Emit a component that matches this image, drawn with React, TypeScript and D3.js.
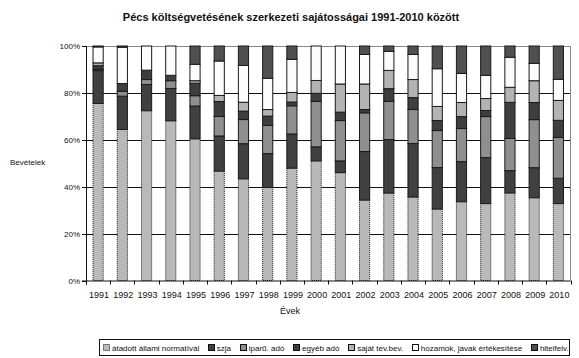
import React, { useEffect, useRef } from "react";
import * as d3 from "d3";

const years = ["1991", "1992", "1993", "1994", "1995", "1996", "1997", "1998", "1999", "2000",
  "2001", "2002", "2003", "2004", "2005", "2006", "2007", "2008", "2009", "2010"];

const atadott = [75.5, 64.4, 72.4, 68.1, 60.4, 46.7, 43.4, 39.7, 47.9, 51.0, 46.0, 34.3, 37.3, 35.6, 30.5, 33.6, 32.8, 37.3, 35.3, 32.8];
const szja = [14.0, 14.2, 11.2, 13.8, 14.0, 15.0, 15.0, 14.4, 14.6, 6.0, 5.0, 20.7, 22.8, 22.8, 17.7, 17.1, 19.6, 9.5, 12.8, 10.8];
const iparu = [0.6, 2.1, 2.1, 3.3, 4.4, 8.3, 10.3, 12.0, 12.0, 19.4, 17.2, 16.5, 16.3, 14.5, 15.8, 14.1, 17.5, 13.7, 20.5, 17.4];
const egyeb = [1.5, 3.3, 4.0, 2.3, 5.3, 6.4, 3.6, 4.0, 1.6, 3.4, 3.6, 1.4, 5.4, 5.1, 4.3, 5.1, 2.6, 15.4, 7.3, 7.3];
const sajat = [1.2, 0, 0, 0, 1.1, 2.6, 3.8, 2.8, 4.1, 5.5, 12.0, 10.9, 7.8, 7.7, 6.0, 6.0, 5.1, 6.4, 9.3, 8.5];
const hozamok = [6.8, 15.5, 10.3, 12.5, 7.0, 14.7, 15.7, 13.3, 14.1, 14.7, 16.2, 12.6, 8.1, 10.7, 16.1, 12.4, 9.9, 12.8, 7.4, 9.0];
const hitel = [0.4, 0.5, 0, 0, 7.8, 6.4, 8.3, 13.8, 5.7, 0, 0, 3.6, 2.3, 3.6, 9.7, 11.7, 12.5, 4.8, 7.4, 14.2];

const seriesNames = ["átadott állami normatívál", "szja", "iparű. adó", "egyéb adó", "saját tev.bev.", "hozamok, javak értékesítése", "hitelfelv."];
const seriesValues = [atadott, szja, iparu, egyeb, sajat, hozamok, hitel];
const colors = ["#b9b9b9", "#404040", "#8f8f8f", "#3e3e3e", "#b3b3b3", "#fcfcfc", "#505050"];
const yTicks = [0, 0.2, 0.4, 0.6, 0.8, 1];

const FONT = "'Liberation Sans', Arial, sans-serif";

const App = () => {
  const svgRef = useRef<SVGSVGElement>(null);

  useEffect(() => {
    const svg = d3.select(svgRef.current);
    svg.selectAll("*").remove();

    const left = 86, right = 570.5, top = 46, bottom = 280.5;

    const rows = years.map((yr, i) => {
      const r: any = { year: yr };
      seriesNames.forEach((n, k) => (r[n] = seriesValues[k][i]));
      return r;
    });
    const stack = d3.stack<any>().keys(seriesNames).offset(d3.stackOffsetExpand)(rows);

    const x = d3.scaleBand<string>().domain(years).range([left, right]).paddingInner(0.58).paddingOuter(0.29);
    const y = d3.scaleLinear().domain([0, 1]).range([bottom, top]);
    const step = (right - left) / years.length;

    // title
    svg.append("text")
      .attr("x", 291).attr("y", 21)
      .attr("text-anchor", "middle")
      .attr("font-family", FONT).attr("font-size", 11).attr("font-weight", "bold")
      .attr("fill", "#111")
      .text("Pécs költségvetésének szerkezeti sajátosságai 1991-2010 között");

    // gridlines
    svg.append("g").selectAll("line").data(yTicks.slice(1)).join("line")
      .attr("x1", left).attr("x2", right)
      .attr("y1", (d) => Math.round(y(d)) + 0.5).attr("y2", (d) => Math.round(y(d)) + 0.5)
      .attr("stroke", (d) => (d === 1 ? "#888" : "#111")).attr("stroke-width", 1);
    svg.append("line")
      .attr("x1", right).attr("x2", right).attr("y1", top).attr("y2", bottom)
      .attr("stroke", "#888");

    // bars
    const g = svg.append("g");
    stack.forEach((layer, k) => {
      g.append("g").selectAll("rect").data(layer).join("rect")
        .attr("x", (d) => x(d.data.year)!)
        .attr("width", x.bandwidth())
        .attr("y", (d) => y(d[1]))
        .attr("height", (d) => Math.max(0, y(d[0]) - y(d[1])))
        .attr("fill", colors[k])
        .attr("stroke", (d) => (d[1] - d[0] > 0.001 ? "#1a1a1a" : "none"))
        .attr("stroke-width", 1)
        .attr("stroke-dasharray", k === 0 ? "1,1" : null);
    });

    // axes
    svg.append("line")
      .attr("x1", left + 0.5).attr("x2", left + 0.5).attr("y1", top).attr("y2", bottom + 4)
      .attr("stroke", "#111");
    svg.append("line")
      .attr("x1", left - 4).attr("x2", right).attr("y1", bottom + 0.5).attr("y2", bottom + 0.5)
      .attr("stroke", "#111");

    const yAxis = svg.append("g");
    yAxis.selectAll("line").data(yTicks).join("line")
      .attr("x1", left - 4).attr("x2", left)
      .attr("y1", (d) => Math.round(y(d)) + 0.5).attr("y2", (d) => Math.round(y(d)) + 0.5)
      .attr("stroke", "#111");
    yAxis.selectAll("text").data(yTicks).join("text")
      .attr("x", left - 6).attr("y", (d) => y(d) + 3)
      .attr("text-anchor", "end")
      .attr("font-family", FONT).attr("font-size", 8).attr("fill", "#111")
      .text((d) => d3.format(".0%")(d));

    const xAxis = svg.append("g");
    xAxis.selectAll("line").data(d3.range(years.length + 1)).join("line")
      .attr("x1", (i) => Math.round(left + i * step) + 0.5).attr("x2", (i) => Math.round(left + i * step) + 0.5)
      .attr("y1", bottom).attr("y2", bottom + 4)
      .attr("stroke", "#111");
    xAxis.selectAll("text").data(years).join("text")
      .attr("x", (d) => x(d)! + x.bandwidth() / 2 + 1)
      .attr("y", bottom + 17)
      .attr("text-anchor", "middle")
      .attr("font-family", FONT).attr("font-size", 9).attr("fill", "#111")
      .text((d) => d);

    svg.append("text")
      .attr("x", 290).attr("y", 314).attr("text-anchor", "middle")
      .attr("font-family", FONT).attr("font-size", 9).attr("fill", "#111")
      .text("Évek");
    svg.append("text")
      .attr("x", 10).attr("y", 165)
      .attr("font-family", FONT).attr("font-size", 8).attr("fill", "#111")
      .text("Bevételek");

    // legend
    const lg = svg.append("g");
    lg.append("rect")
      .attr("x", 99.5).attr("y", 339.5).attr("width", 470).attr("height", 16)
      .attr("fill", "white").attr("stroke", "#111");
    let cx = 103;
    seriesNames.forEach((n, k) => {
      lg.append("rect")
        .attr("x", Math.round(cx) + 0.5).attr("y", 344.5).attr("width", 6).attr("height", 6)
        .attr("fill", colors[k]).attr("stroke", "#111")
        .attr("stroke-dasharray", k === 0 ? "1,1" : null);
      const t = lg.append("text")
        .attr("x", cx + 9).attr("y", 351)
        .attr("font-family", FONT).attr("font-size", 8).attr("fill", "#111")
        .text(n);
      const w = (t.node() as SVGTextElement).getComputedTextLength();
      cx += 9 + w + 8.7;
    });
  }, []);

  return (
    <svg ref={svgRef} width={579} height={358}
      style={{ position: "absolute", left: 0, top: 0, background: "white" }} />
  );
};

export default App;
